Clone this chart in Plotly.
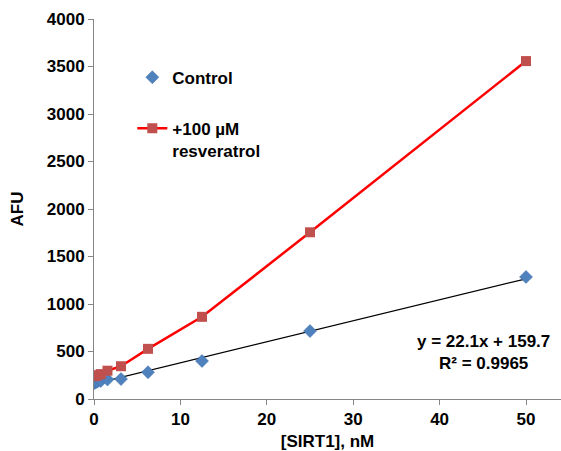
import plotly.graph_objects as go
import numpy as np

# Data
sirt1_nM = [0, 0.195, 0.39, 0.78, 1.56, 3.125, 6.25, 12.5, 25, 50]
control_afu = [165, 175, 182, 190, 205, 210, 282, 400, 715, 1285]
resveratrol_afu = [240, 245, 250, 262, 298, 345, 528, 865, 1755, 3557]
trend_slope = 22.1
trend_intercept = 159.7
trend_r2 = 0.9965
x_ticks = [0, 10, 20, 30, 40, 50]
y_ticks = [0, 500, 1000, 1500, 2000, 2500, 3000, 3500, 4000]

FONT = "Liberation Sans, Arial, sans-serif"
BOLD = dict(family=FONT, size=17, color="black", weight="bold")

trend_x = np.array([min(sirt1_nM), max(sirt1_nM)])
trend_y = trend_slope * trend_x + trend_intercept

fig = go.Figure()
fig.add_trace(go.Scatter(
    x=trend_x, y=trend_y, mode="lines",
    line=dict(color="black", width=1.2), showlegend=False, hoverinfo="skip"))
fig.add_trace(go.Scatter(
    x=sirt1_nM, y=control_afu, mode="markers", name="Control",
    marker=dict(symbol="diamond", size=10, color="#4F81BD",
                line=dict(color="#3A6DAA", width=0.5)),
    legendgroup="a"))
fig.add_trace(go.Scatter(
    x=sirt1_nM, y=resveratrol_afu, mode="lines+markers",
    name="+100 µM<br>resveratrol",
    line=dict(color="#FF0000", width=2.5),
    marker=dict(symbol="square", size=10, color="#C0504D"),
    legendgroup="b"))

fig.add_annotation(
    x=45.1, y=485, xref="x", yref="y",
    text=f"y = {trend_slope}x + {trend_intercept}<br>R² = {trend_r2}",
    showarrow=False, font=BOLD, align="center",
    xanchor="center", yanchor="middle")

fig.update_layout(
    width=561, height=451,
    margin=dict(l=94, r=0, t=19, b=52),
    paper_bgcolor="white", plot_bgcolor="white",
    font=BOLD,
    showlegend=True,
    legend=dict(x=0.082, y=0.893, xanchor="left", yanchor="top",
                bgcolor="rgba(0,0,0,0)", font=BOLD, tracegroupgap=26,
                valign="top"),
    xaxis=dict(range=[0, 54.05], tickvals=x_ticks, showgrid=False,
               zeroline=False, showline=True, linecolor="#868686",
               linewidth=1, ticks="outside", ticklen=5, tickcolor="#868686",
               tickfont=BOLD, automargin=False,
               title=dict(text="[SIRT1], nM", font=BOLD, standoff=12)),
    yaxis=dict(range=[0, 4000], tickvals=y_ticks, showgrid=False,
               zeroline=False, showline=True, linecolor="#868686",
               linewidth=1, ticks="outside", ticklen=5, tickcolor="#868686",
               tickfont=BOLD, automargin=False,
               title=dict(text="AFU", font=BOLD, standoff=18)),
)

fig.write_html("out.html", config={"displayModeBar": False},
               post_script="document.body.style.margin='0';")
